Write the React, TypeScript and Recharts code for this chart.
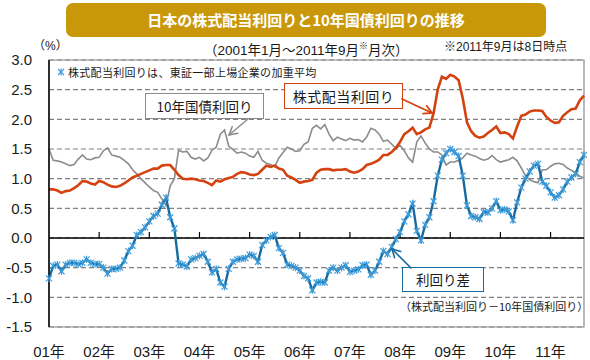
import React from 'react';
import { LineChart, Line, XAxis, YAxis, CartesianGrid, ReferenceLine, ReferenceArea } from 'recharts';

const FONT = '"Liberation Sans", "Noto Sans CJK JP", sans-serif';
const JFONT = '"Noto Sans CJK JP", "Liberation Sans", sans-serif';

const startYear = 2001;
const monthCount = 129; // 2001-01 .. 2011-09
const yearLabels = ['01年', '02年', '03年', '04年', '05年', '06年', '07年', '08年', '09年', '10年', '11年'];
const yTicks = [-1.5, -1.0, -0.5, 0.0, 0.5, 1.0, 1.5, 2.0, 2.5, 3.0];

const months: string[] = [];
for (let i = 0; i < monthCount; i++) {
  const y = startYear + Math.floor(i / 12);
  const m = (i % 12) + 1;
  months.push(`${y}-${m < 10 ? '0' + m : m}`);
}

// 株式配当利回り
const dividendYield = [
  0.82, 0.82, 0.80, 0.76, 0.79, 0.80, 0.84, 0.89, 0.96, 0.95, 0.92, 0.90,
  0.96, 0.94, 0.90, 0.87, 0.86, 0.88, 0.92, 0.97, 1.02, 1.05, 1.08, 1.11,
  1.14, 1.17, 1.17, 1.22, 1.23, 1.23, 1.15, 1.06, 1.00, 0.99, 1.00, 0.99,
  0.97, 0.96, 0.93, 0.89, 0.97, 0.95, 0.99, 1.01, 1.03, 1.08, 1.11, 1.10,
  1.07, 1.06, 1.08, 1.15, 1.22, 1.20, 1.22, 1.17, 1.15, 1.05, 1.02, 0.98,
  0.93, 0.95, 0.96, 0.98, 1.10, 1.15, 1.16, 1.16, 1.14, 1.15, 1.15, 1.16,
  1.12, 1.10, 1.12, 1.16, 1.23, 1.25, 1.28, 1.32, 1.40, 1.40, 1.45, 1.52,
  1.62, 1.75, 1.80, 1.86, 1.75, 1.78, 1.83, 1.86, 2.10, 2.50, 2.72, 2.68,
  2.75, 2.72, 2.66, 2.35, 1.95, 1.80, 1.72, 1.69, 1.71, 1.77, 1.82, 1.88,
  1.77, 1.78, 1.75, 1.68, 1.88, 2.06, 2.08, 2.13, 2.15, 2.15, 2.14, 2.04,
  1.98, 1.94, 1.95, 2.06, 2.12, 2.17, 2.18, 2.32, 2.40,
];

// 10年国債利回り
const jgb10 = [
  1.50, 1.31, 1.30, 1.28, 1.25, 1.22, 1.24, 1.33, 1.40, 1.33, 1.32, 1.35,
  1.36, 1.47, 1.52, 1.40, 1.38, 1.36, 1.31, 1.25, 1.15, 1.08, 1.00, 0.93,
  0.86, 0.80, 0.77, 0.66, 0.55, 0.88, 1.00, 1.48, 1.45, 1.46, 1.36, 1.33,
  1.36, 1.30, 1.35, 1.48, 1.53, 1.75, 1.82, 1.55, 1.49, 1.43, 1.45, 1.43,
  1.38, 1.36, 1.46, 1.31, 1.26, 1.24, 1.20, 1.35, 1.44, 1.53, 1.50, 1.46,
  1.47, 1.58, 1.62, 1.85, 1.90, 1.84, 1.91, 1.75, 1.64, 1.70, 1.67, 1.64,
  1.68, 1.65, 1.66, 1.62, 1.70, 1.85, 1.82, 1.75, 1.63, 1.65, 1.58, 1.51,
  1.56, 1.47, 1.35, 1.28, 1.62, 1.72, 1.60, 1.50, 1.45, 1.45, 1.40, 1.23,
  1.28, 1.28, 1.31, 1.35, 1.43, 1.40, 1.38, 1.34, 1.31, 1.33, 1.39, 1.32,
  1.28, 1.30, 1.32, 1.36, 1.30, 1.18, 1.05, 0.98, 0.95, 0.93, 1.15, 1.15,
  1.21, 1.25, 1.26, 1.24, 1.18, 1.14, 1.10, 1.04, 1.01,
];

// 利回り差
const yieldSpread = [
  -0.68, -0.47, -0.45, -0.56, -0.45, -0.42, -0.42, -0.44, -0.42, -0.36, -0.42, -0.44,
  -0.44, -0.50, -0.60, -0.52, -0.52, -0.50, -0.38, -0.22, -0.13, 0.05, 0.10, 0.18,
  0.28, 0.37, 0.41, 0.56, 0.68, 0.35, 0.16, -0.43, -0.45, -0.48, -0.36, -0.34,
  -0.30, -0.27, -0.40, -0.58, -0.52, -0.75, -0.82, -0.52, -0.40, -0.36, -0.35, -0.34,
  -0.28, -0.30, -0.40, -0.12, -0.04, 0.02, 0.05, -0.17, -0.25, -0.45, -0.47, -0.50,
  -0.55, -0.64, -0.68, -0.88, -0.75, -0.74, -0.75, -0.55, -0.50, -0.55, -0.50, -0.46,
  -0.57, -0.55, -0.53, -0.46, -0.45, -0.62, -0.55, -0.40, -0.22, -0.27, -0.15, -0.02,
  0.10, 0.28, 0.40, 0.58, 0.12, -0.04, 0.22, 0.35, 0.62, 1.05, 1.32, 1.43,
  1.50, 1.45, 1.38, 1.05, 0.55, 0.37, 0.35, 0.32, 0.44, 0.43, 0.50, 0.62,
  0.47, 0.48, 0.45, 0.30, 0.60, 0.85, 1.00, 1.12, 1.22, 1.25, 0.95, 0.88,
  0.77, 0.68, 0.72, 0.82, 0.95, 1.02, 1.08, 1.28, 1.40,
];

const data = months.map((ym, i) => ({
  ym,
  div: dividendYield[i],
  jgb: jgb10[i],
  spread: yieldSpread[i],
}));

const yearStarts = months.filter((m, i) => i > 0 && i % 12 === 0);

const RED = '#D4420F';
const GRAY = '#8C8C8C';
const BLUE = '#176A9E';
const MARK = '#3E9CDA';

const StarDot = (props: any) => {
  const { cx, cy, index } = props;
  if (cx == null || cy == null) return null;
  const r = 3;
  return (
    <g key={`sd${index}`} stroke={MARK} strokeWidth={1.2}>
      <line x1={cx - r} y1={cy - r} x2={cx + r} y2={cy + r} />
      <line x1={cx - r} y1={cy + r} x2={cx + r} y2={cy - r} />
      <line x1={cx} y1={cy - r - 0.6} x2={cx} y2={cy + r + 0.6} />
    </g>
  );
};

const Arrow = ({ x1, y1, x2, y2, color, w }: any) => {
  const ang = Math.atan2(y2 - y1, x2 - x1);
  const L = 9;
  const a1 = ang + Math.PI - 0.5;
  const a2 = ang + Math.PI + 0.5;
  return (
    <g stroke={color} strokeWidth={w} fill="none" strokeLinecap="round">
      <line x1={x1} y1={y1} x2={x2} y2={y2} />
      <polyline points={`${x2 + L * Math.cos(a1)},${y2 + L * Math.sin(a1)} ${x2},${y2} ${x2 + L * Math.cos(a2)},${y2 + L * Math.sin(a2)}`} />
    </g>
  );
};

const abs = (l: number, t: number, extra: any = {}) => ({ position: 'absolute' as const, left: l, top: t, ...extra });

export default function App() {
  return (
    <div style={{ position: 'absolute', left: 0, top: 0, width: 590, height: 360, background: '#fff', fontFamily: JFONT, color: '#1a1a1a' }}>
      {/* title banner */}
      <div style={abs(66, 3, { width: 480, height: 34, background: '#C9980A', borderRadius: 7, color: '#fff', fontWeight: 700, fontSize: 15, lineHeight: '34px', textAlign: 'center' })}>
        日本の株式配当利回りと10年国債利回りの推移
      </div>
      <div style={abs(33, 38, { fontSize: 12, lineHeight: '16px', fontFamily: FONT })}>（%）</div>
      <div style={abs(204, 37, { width: 210, fontSize: 13.5, lineHeight: '19px', whiteSpace: 'nowrap', fontFamily: FONT })}>
        （2001年1月～2011年9月<sup style={{ fontSize: 9 }}>※</sup>月次）
      </div>
      <div style={abs(444, 39, { fontSize: 12, lineHeight: '16px', whiteSpace: 'nowrap', fontFamily: FONT })}>※2011年9月は8日時点</div>

      <div style={abs(0, 0)}>
        <LineChart width={590} height={360} data={data} margin={{ top: 60, right: 6, bottom: 0, left: 0 }}>
          <CartesianGrid vertical={false} stroke="#808080" strokeDasharray="5 3" strokeWidth={1.2} />
          <ReferenceArea x1={months[0]} x2={months[monthCount - 1]} y1={-1.5} y2={3} fill="none" stroke="#8a8a8a" strokeWidth={1.2} />
          <ReferenceLine y={0} stroke="#000" strokeWidth={1.5} />
          {yearStarts.map((m) => (
            <ReferenceLine key={m} segment={[{ x: m, y: 0 }, { x: m, y: 0.1 }]} stroke="#000" strokeWidth={1.2} />
          ))}
          <XAxis
            dataKey="ym"
            interval={11}
            height={33}
            axisLine={false}
            tickLine={false}
            tickSize={0}
            tickMargin={19}
            tick={{ fontSize: 15, fill: '#1a1a1a', fontFamily: FONT }}
            tickFormatter={(v: string) => yearLabels[parseInt(v.slice(0, 4), 10) - startYear]}
          />
          <YAxis
            width={49}
            domain={[-1.5, 3]}
            ticks={yTicks}
            type="number"
            allowDataOverflow
            axisLine={{ stroke: '#000', strokeWidth: 1.5 }}
            tickLine={false}
            tickSize={0}
            tickMargin={17}
            tick={{ fontSize: 15, fill: '#1a1a1a', fontFamily: FONT }}
            tickFormatter={(v: number) => v.toFixed(1)}
          />
          <Line type="linear" dataKey="jgb" stroke={GRAY} strokeWidth={1.6} dot={false} activeDot={false} isAnimationActive={false} />
          <Line type="linear" dataKey="div" stroke={RED} strokeWidth={2.6} dot={false} activeDot={false} isAnimationActive={false} />
          <Line type="linear" dataKey="spread" stroke={BLUE} strokeWidth={2.4} dot={<StarDot />} activeDot={false} isAnimationActive={false} />
        </LineChart>
      </div>

      {/* legend note */}
      <svg style={abs(56, 67)} width={10} height={10}>
        <StarDot cx={5} cy={5} index={0} />
      </svg>
      <div style={abs(68, 64, { fontSize: 11, lineHeight: '16px', letterSpacing: 0.3, whiteSpace: 'nowrap' })}>
        株式配当利回りは、東証一部上場企業の加重平均
      </div>

      {/* label boxes */}
      <div style={abs(145, 93, { width: 117, height: 24, border: `1px solid ${GRAY}`, background: '#fff', fontSize: 13.5, lineHeight: '24px', textAlign: 'center', whiteSpace: 'nowrap' })}>
        10年国債利回り
      </div>
      <div style={abs(284, 83, { width: 117, height: 24, border: `1px solid ${RED}`, background: '#fff', fontSize: 14, lineHeight: '24px', textAlign: 'center', whiteSpace: 'nowrap', letterSpacing: 0.5 })}>
        株式配当利回り
      </div>
      <div style={abs(402, 267, { width: 80, height: 23, border: `1.5px solid ${BLUE}`, background: '#fff', fontSize: 13.5, lineHeight: '23px', textAlign: 'center', whiteSpace: 'nowrap' })}>
        利回り差
      </div>
      <div style={abs(400, 298, { fontSize: 11, lineHeight: '16px', whiteSpace: 'nowrap' })}>
        （株式配当利回り－10年国債利回り）
      </div>

      <svg style={abs(0, 0, { pointerEvents: 'none' })} width={590} height={360}>
        <Arrow x1={248} y1={119} x2={229} y2={135} color={GRAY} w={1.5} />
        <Arrow x1={402} y1={99} x2={432} y2={113} color={RED} w={1.8} />
        <Arrow x1={411} y1={268} x2={392} y2={249} color={BLUE} w={1.6} />
      </svg>
    </div>
  );
}
